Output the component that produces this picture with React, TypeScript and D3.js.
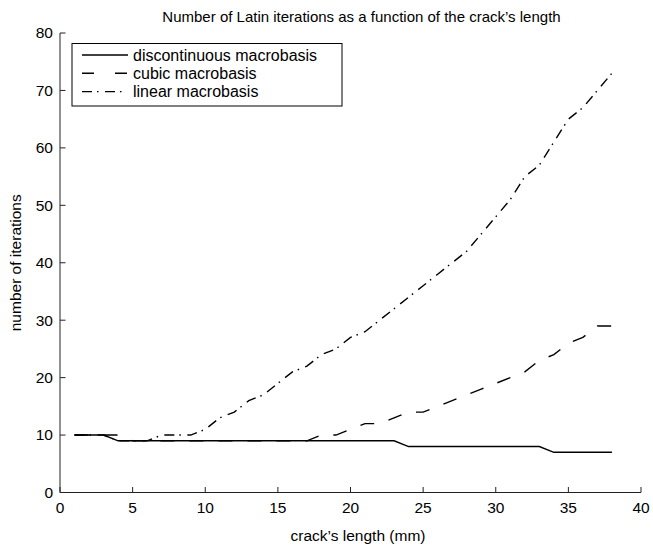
import React from "react";
import * as d3 from "d3";

const crackLength = [1,2,3,4,5,6,7,8,9,10,11,12,13,14,15,16,17,18,19,20,21,22,23,24,25,26,27,28,29,30,31,32,33,34,35,36,37,38];
const discontinuous = [10,10,10,9,9,9,9,9,9,9,9,9,9,9,9,9,9,9,9,9,9,9,9,8,8,8,8,8,8,8,8,8,8,7,7,7,7,7];
const cubic = [10,10,10,10,9,9,9,9,9,9,9,9,9,9,9,9,9,10,10,11,12,12,13,14,14,15,16,17,18,19,20,21,23,24,26,27,29,29];
const linear = [10,10,10,9,9,9,10,10,10,11,13,14,16,17,19,21,22,24,25,27,28,30,32,34,36,38,40,42,45,48,51,55,57,61,65,67,70,73];
const xTicks = [0,5,10,15,20,25,30,35,40];
const yTicks = [0,10,20,30,40,50,60,70,80];
const seriesNames = ["discontinuous macrobasis", "cubic macrobasis", "linear macrobasis"];
const dashes = ["none", "14 15", "10 5 1.5 6.5"];

const W = 653, H = 548;
const FONT = "'Liberation Sans', Arial, Helvetica, sans-serif";

export default function App() {
  const x = d3.scaleLinear().domain([0, 40]).range([60, 641]);
  const y = d3.scaleLinear().domain([0, 80]).range([492.5, 33]);
  const series = [discontinuous, cubic, linear];
  const line = d3.line<number>().x((_, i) => x(crackLength[i])).y(d => y(d));
  const tl = 5.5;
  return (
    <svg width={W} height={H} style={{ position: "absolute", left: 0, top: 0, background: "#fff" }} fontFamily={FONT}>
      <rect x={0} y={0} width={W} height={H} fill="#fff" />
      <text x={361.5} y={22} fontSize={15} textAnchor="middle" fill="#000">Number of Latin iterations as a function of the crack’s length</text>
      {/* axes */}
      <line x1={x(0)} x2={x(0)} y1={y(80)} y2={y(0)} stroke="#222" strokeWidth={1} />
      <line x1={x(0)} x2={x(40)} y1={y(0)} y2={y(0)} stroke="#222" strokeWidth={1} />
      {yTicks.map(t => (
        <g key={"y" + t}>
          <line x1={x(0)} x2={x(0) + tl} y1={y(t)} y2={y(t)} stroke="#222" />
          <text x={53} y={y(t)} dy="0.35em" fontSize={15.5} textAnchor="end" fill="#000">{t}</text>
        </g>
      ))}
      {xTicks.map(t => (
        <g key={"x" + t}>
          <line x1={x(t)} x2={x(t)} y1={y(0)} y2={y(0) - tl} stroke="#222" />
          <text x={x(t)} y={508} dy="0.35em" fontSize={15.5} textAnchor="middle" fill="#000">{t}</text>
        </g>
      ))}
      <text x={358} y={541} fontSize={15.5} textAnchor="middle" fill="#000">crack’s length (mm)</text>
      <text transform={`translate(21,${(y(0) + y(80)) / 2}) rotate(-90)`} fontSize={15.5} textAnchor="middle" fill="#000">number of iterations</text>
      {series.map((s, i) => (
        <path key={i} d={line(s) || ""} fill="none" stroke="#000" strokeWidth={1.4} strokeDasharray={dashes[i]} />
      ))}
      {/* legend */}
      <rect x={72} y={43.5} width={270} height={62.5} fill="#fff" stroke="#000" strokeWidth={1} />
      {seriesNames.map((n, i) => {
        const cy = 55 + i * 18.3;
        return (
          <g key={n}>
            <line x1={82} x2={128} y1={cy} y2={cy} stroke="#000" strokeWidth={1.4} strokeDasharray={i === 1 ? "12 21" : dashes[i]} />
            <text x={133} y={cy} dy="0.35em" fontSize={16} fill="#000">{n}</text>
          </g>
        );
      })}
    </svg>
  );
}
